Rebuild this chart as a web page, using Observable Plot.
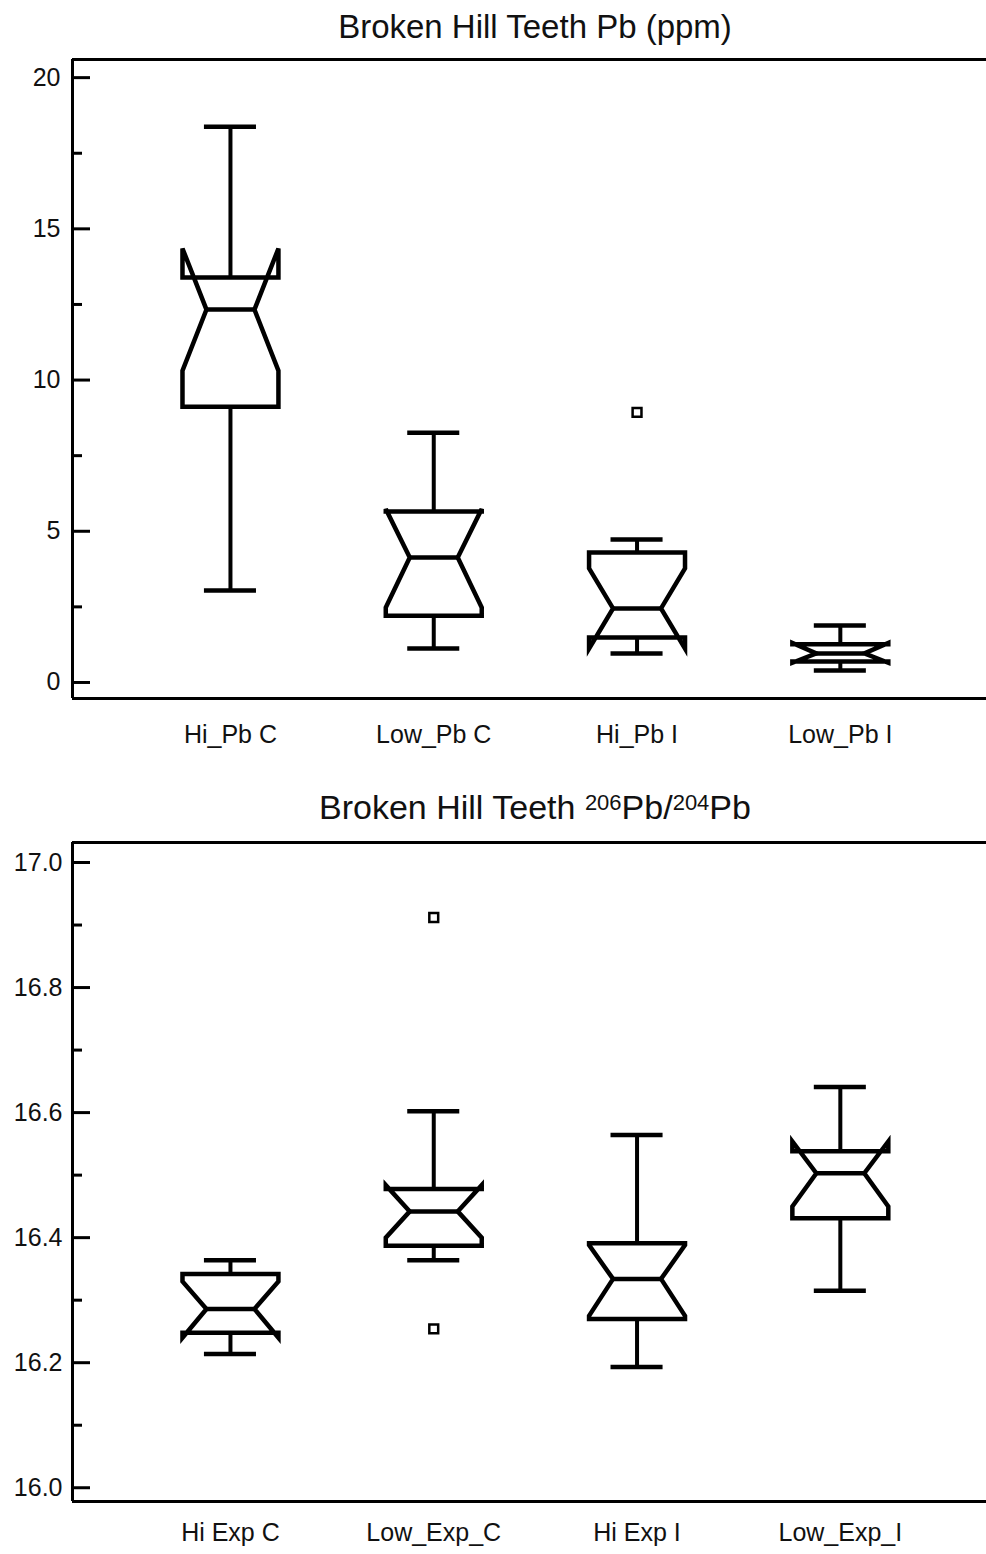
<!DOCTYPE html>
<html><head><meta charset="utf-8">
<script src="https://cdn.jsdelivr.net/npm/d3@7"></script>
<script src="https://cdn.jsdelivr.net/npm/@observablehq/plot@0.6"></script>
<style>
html,body{margin:0;padding:0;background:#fff;overflow:hidden;}
#page{position:relative;width:986px;height:1554px;font-family:"Liberation Sans",Arial,sans-serif;color:#000;}
.panel{position:absolute;left:0;}
.title{position:absolute;left:72px;width:926px;text-align:center;line-height:1;white-space:nowrap;z-index:2;color:#111;}
.title sup{font-size:22px;position:relative;top:-9px;vertical-align:baseline;line-height:0;}
</style></head><body><div id="page">
<div id="p1" class="panel" style="top:0px"></div>
<div id="p2" class="panel" style="top:780px"></div>
<div class="title" style="top:10px;font-size:33px">Broken Hill Teeth Pb (ppm)</div>
<div class="title" style="top:790px;font-size:34px">Broken Hill Teeth <sup>206</sup>Pb/<sup>204</sup>Pb</div>
</div>
<script>
// ---- Panel 1: Pb (ppm) ----
const pbCats     = ["Hi_Pb C", "Low_Pb C", "Hi_Pb I", "Low_Pb I"];
const pbLow      = [3.04, 1.12, 0.96, 0.40];
const pbQ1       = [9.12, 2.21, 1.49, 0.69];
const pbNotchLo  = [10.31, 2.48, 1.12, 0.65];
const pbMedian   = [12.33, 4.13, 2.45, 0.96];
const pbNotchHi  = [14.35, 5.74, 3.77, 1.31];
const pbQ3       = [13.39, 5.65, 4.30, 1.26];
const pbHigh     = [18.38, 8.26, 4.73, 1.88];
const pbOutCat   = ["Hi_Pb I"];
const pbOutVal   = [8.93];
const pbTicks    = [0, 5, 10, 15, 20];
const pbMinor    = [2.5, 7.5, 12.5, 17.5];

// ---- Panel 2: 206Pb/204Pb ----
const expCats    = ["Hi Exp C", "Low_Exp_C", "Hi Exp I", "Low_Exp_I"];
const expLow     = [16.214, 16.364, 16.193, 16.315];
const expQ1      = [16.248, 16.387, 16.270, 16.431];
const expNotchLo = [16.240, 16.400, 16.275, 16.450];
const expMedian  = [16.286, 16.442, 16.334, 16.503];
const expNotchHi = [16.330, 16.484, 16.388, 16.554];
const expQ3      = [16.342, 16.478, 16.391, 16.538];
const expHigh    = [16.364, 16.602, 16.564, 16.641];
const expOutCat  = ["Low_Exp_C", "Low_Exp_C"];
const expOutVal  = [16.912, 16.254];
const expTicks   = [16.0, 16.2, 16.4, 16.6, 16.8, 17.0];
const expMinor   = [16.1, 16.3, 16.5, 16.7, 16.9];

function boxPanel(o) {
  const HW = 0.236, MW = 0.118, CW = 0.128;
  const idx = o.cats.map((c, i) => i);
  const outline = [];
  idx.forEach(i => {
    const pts = [
      [i - HW, o.q1[i]], [i - HW, o.notchLo[i]], [i - MW, o.median[i]], [i - HW, o.notchHi[i]],
      [i - HW, o.q3[i]], [i + HW, o.q3[i]], [i + HW, o.notchHi[i]], [i + MW, o.median[i]],
      [i + HW, o.notchLo[i]], [i + HW, o.q1[i]], [i - HW, o.q1[i]], [i - HW, o.notchLo[i]]
    ];
    pts.forEach(([x, y]) => outline.push({cat: o.cats[i], x, y}));
  });
  const outIdx = o.outVal.map((v, j) => j);
  const xDomain = [-0.777, 3.719];
  return Plot.plot({
    width: 986,
    height: o.height,
    marginLeft: 72,
    marginRight: 0,
    marginTop: o.marginTop,
    marginBottom: o.marginBottom,
    style: {fontFamily: "Liberation Sans, Arial, sans-serif", fontSize: "25px", color: "#111", background: "transparent"},
    x: {domain: xDomain, label: null},
    y: {domain: o.yDomain, label: null},
    marks: [
      // whiskers
      Plot.ruleX(idx, {x: i => i, y1: i => o.q3[i], y2: i => o.high[i], stroke: "#000", strokeWidth: 4}),
      Plot.ruleX(idx, {x: i => i, y1: i => o.q1[i], y2: i => o.low[i], stroke: "#000", strokeWidth: 4}),
      Plot.ruleY(idx, {y: i => o.high[i], x1: i => i - CW, x2: i => i + CW, stroke: "#000", strokeWidth: 4.5}),
      Plot.ruleY(idx, {y: i => o.low[i], x1: i => i - CW, x2: i => i + CW, stroke: "#000", strokeWidth: 4.5}),
      // notched boxes
      Plot.line(outline, {x: "x", y: "y", z: "cat", stroke: "#000", strokeWidth: 4.5,
        strokeLinejoin: "miter", strokeMiterlimit: 4, strokeLinecap: "butt"}),
      Plot.ruleY(idx, {y: i => o.median[i], x1: i => i - MW, x2: i => i + MW, stroke: "#000", strokeWidth: 4.5}),
      // outliers
      Plot.dot(outIdx, {x: j => o.cats.indexOf(o.outCat[j]), y: j => o.outVal[j], symbol: "square", r: 5,
        stroke: "#000", strokeWidth: 2.5, fill: "white"}),
      // frame (left, top, bottom)
      Plot.ruleX([xDomain[0]], {stroke: "#000", strokeWidth: 3}),
      Plot.ruleY([o.yDomain[0], o.yDomain[1]], {stroke: "#000", strokeWidth: 3}),
      // axes
      Plot.axisY({ticks: o.ticks, tickSize: 0, tickPadding: o.yPad, tickFormat: o.tickFormat, fontSize: 25, fill: "#111", label: null}),
      Plot.axisY({ticks: o.ticks, tickSize: -18, fill: "none", stroke: "#000", strokeWidth: 3, label: null}),
      Plot.axisY({ticks: o.minor, tickSize: -10, fill: "none", stroke: "#000", strokeWidth: 3, label: null}),
      Plot.axisX({ticks: idx, tickSize: 0, tickPadding: o.xPad, tickFormat: i => o.cats[i], fontSize: 25, fill: "#111", label: null})
    ]
  });
}

document.getElementById("p1").append(boxPanel({
  cats: pbCats, low: pbLow, q1: pbQ1, notchLo: pbNotchLo, median: pbMedian, notchHi: pbNotchHi,
  q3: pbQ3, high: pbHigh, outCat: pbOutCat, outVal: pbOutVal,
  ticks: pbTicks, minor: pbMinor, tickFormat: d3.format("d"),
  yDomain: [-0.53, 20.6], height: 780, marginTop: 59, marginBottom: 82, yPad: 12, xPad: 27
}));

document.getElementById("p2").append(boxPanel({
  cats: expCats, low: expLow, q1: expQ1, notchLo: expNotchLo, median: expMedian, notchHi: expNotchHi,
  q3: expQ3, high: expHigh, outCat: expOutCat, outVal: expOutVal,
  ticks: expTicks, minor: expMinor, tickFormat: d3.format(".1f"),
  yDomain: [15.978, 17.032], height: 774, marginTop: 62, marginBottom: 53, yPad: 10, xPad: 22
}));
</script>
</body></html>
